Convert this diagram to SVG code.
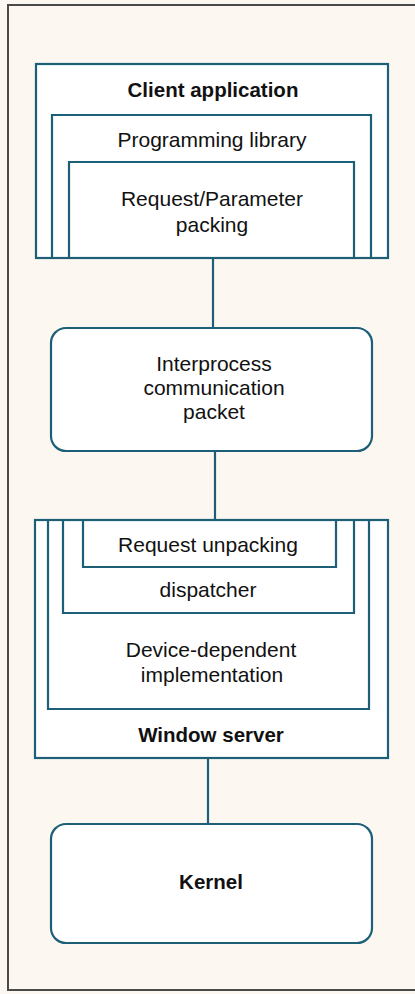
<svg xmlns="http://www.w3.org/2000/svg" width="415" height="994" viewBox="0 0 415 994">
<style>
.bx{fill:#ffffff;stroke:#1c5f76;stroke-width:2.2}
.ln{fill:none;stroke:#1c5f76;stroke-width:2.2}
.fr{fill:none;stroke:#4a4a4a;stroke-width:2}
text{font-family:"Liberation Sans",Arial,sans-serif;font-size:21px;fill:#111;text-anchor:middle}
.b{font-weight:bold;font-size:20.5px}
</style>
<rect x="0" y="0" width="415" height="994" fill="#fcf8f1"/>
<g id="frame">
<path class="fr" d="M415 5 H8 V990 H415"/>
</g>
<g id="connectors">
<line class="ln" x1="213" y1="258" x2="213" y2="328"/>
<line class="ln" x1="215" y1="451" x2="215" y2="520"/>
<line class="ln" x1="208" y1="758" x2="208" y2="823"/>
</g>
<g id="client-application">
<rect class="bx" x="36" y="64" width="352" height="194"/>
<text class="b" x="213" y="97">Client application</text>
</g>
<g id="programming-library">
<path class="ln" d="M52 258 V115 H371 V258"/>
<text x="212" y="147">Programming library</text>
</g>
<g id="request-parameter-packing">
<path class="ln" d="M69 258 V162 H354 V258"/>
<text x="212" y="206">Request/Parameter</text>
<text x="212" y="232">packing</text>
</g>
<g id="ipc-packet">
<rect class="bx" x="51" y="328" width="321" height="123" rx="15" ry="15"/>
<text x="214" y="371">Interprocess</text>
<text x="214" y="395">communication</text>
<text x="214" y="419">packet</text>
</g>
<g id="window-server">
<rect class="bx" x="35" y="520" width="353" height="238"/>
<text class="b" x="211" y="742">Window server</text>
</g>
<g id="device-dependent-implementation">
<path class="ln" d="M48 520 V709 H369 V520"/>
<text x="211" y="657">Device-dependent</text>
<text x="212" y="682">implementation</text>
</g>
<g id="dispatcher">
<path class="ln" d="M63 520 V613 H354 V520"/>
<text x="208" y="597">dispatcher</text>
</g>
<g id="request-unpacking">
<path class="ln" d="M83 520 V567 H336 V520"/>
<text x="208" y="552">Request unpacking</text>
</g>
<g id="kernel">
<rect class="bx" x="51" y="824" width="321" height="119" rx="15" ry="15"/>
<text class="b" x="211" y="889">Kernel</text>
</g>
</svg>
